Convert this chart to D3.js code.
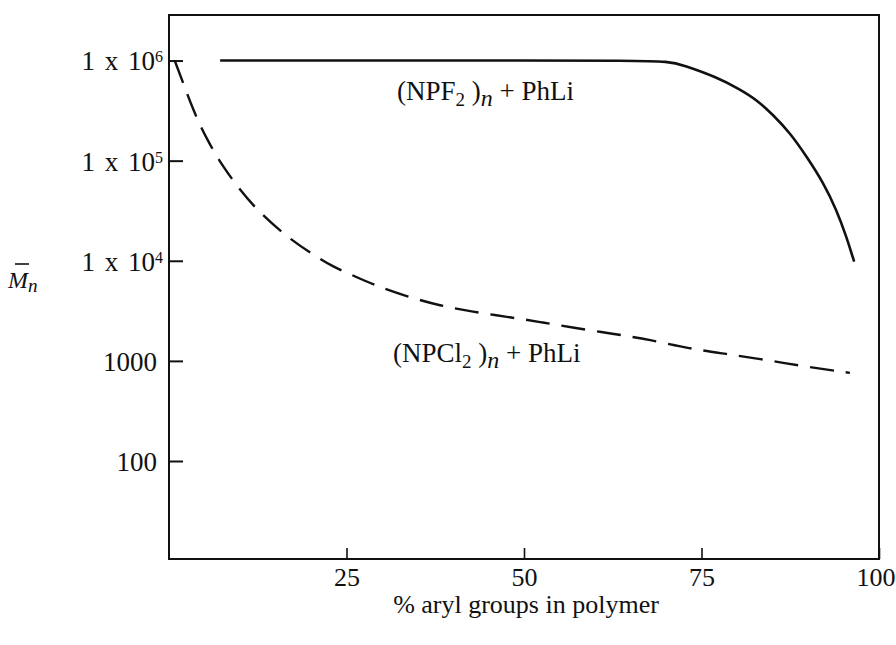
<!DOCTYPE html>
<html>
<head>
<meta charset="utf-8">
<script src="https://cdn.jsdelivr.net/npm/d3@7"></script>
<style>
  html, body { margin: 0; padding: 0; background: #fff; }
  svg { display: block; }
  text { font-family: "Liberation Serif", "DejaVu Serif", serif; fill: #111; }
</style>
</head>
<body>
<svg id="chart" width="896" height="645"></svg>
<script>
// Molecular weight (Mn) versus percent aryl substitution
const xTicks = [25, 50, 75, 100];
const yTicks = [100, 1000, 1e4, 1e5, 1e6];
const yTickLabels = [
  { base: "100", exp: "" },
  { base: "1000", exp: "" },
  { base: "1 x 10", exp: "4" },
  { base: "1 x 10", exp: "5" },
  { base: "1 x 10", exp: "6" }
];

// (NPF2)n + PhLi — solid curve
const npf2Pct = [7.2, 30, 50, 65, 70.5, 72.4, 77.2, 80.4, 82.8, 85.1, 87.5, 89.8, 92.2, 94.0, 95.4, 96.5];
const npf2Mn  = [1e6, 1e6, 1e6, 1e6, 9.8e5, 9.0e5, 6.8e5, 5.16e5, 4.04e5, 2.86e5, 1.88e5, 1.1e5, 5.96e4, 3.23e4, 1.75e4, 9.8e3];

// (NPCl2)n + PhLi — dashed curve
const npcl2Pct = [0.8, 2.0, 3.4, 5.35, 7.6, 10.0, 12.8, 16.6, 19.9, 23.1, 25.8, 28.7, 33.5, 38.2, 42.8, 47.6, 52.3, 56.9, 62.5, 67.7, 73.4, 78.3, 84.2, 89.9, 95.9];
const npcl2Mn  = [1e6, 5.96e5, 3.2e5, 1.61e5, 8.7e4, 5.1e4, 3.0e4, 1.74e4, 1.2e4, 8.7e3, 7.2e3, 5.8e3, 4.4e3, 3.55e3, 3.1e3, 2.75e3, 2.45e3, 2.14e3, 1.87e3, 1.63e3, 1.32e3, 1.18e3, 1.02e3, 870, 760];

const svg = d3.select("#chart");
const plotLeft = 169, plotRight = 879, plotTop = 15, plotBottom = 559;

const x = d3.scaleLinear().domain([0, 100]).range([plotLeft, plotRight]);
const y = d3.scaleLog().domain([10.5, 2.85e6]).range([plotBottom, plotTop]);

// frame
svg.append("rect")
  .attr("x", plotLeft).attr("y", plotTop)
  .attr("width", plotRight - plotLeft).attr("height", plotBottom - plotTop)
  .attr("fill", "none").attr("stroke", "#111").attr("stroke-width", 2);

// y axis: inward ticks, labels with superscript exponents
const yAxis = svg.append("g")
  .attr("transform", `translate(${plotLeft},0)`)
  .call(d3.axisLeft(y).tickValues(yTicks).tickSize(-14).tickPadding(12).tickFormat(() => ""));
yAxis.select(".domain").remove();
yAxis.selectAll(".tick line").attr("stroke", "#111").attr("stroke-width", 2);
yAxis.selectAll(".tick text").remove();
yAxis.selectAll(".tick").each(function(d, i) {
  const lab = yTickLabels[i];
  const t = d3.select(this).append("text")
    .attr("x", lab.exp ? -6 : -12)
    .attr("dy", "0.35em")
    .attr("text-anchor", "end")
    .attr("font-size", 27)
    .attr("word-spacing", 3);
  t.append("tspan").text(lab.base);
  if (lab.exp) {
    t.append("tspan").attr("dy", "-0.5em").attr("font-size", 16).text(lab.exp);
  }
});

// x axis: upward ticks
const xAxis = svg.append("g")
  .attr("transform", `translate(0,${plotBottom})`)
  .call(d3.axisBottom(x).tickValues(xTicks).tickSize(-11).tickPadding(9).tickFormat(d3.format("d")));
xAxis.select(".domain").remove();
xAxis.selectAll(".tick line").attr("stroke", "#111").attr("stroke-width", 1.6);
xAxis.selectAll(".tick text").attr("font-size", 26).attr("fill", "#111")
  .attr("font-family", "Liberation Serif, DejaVu Serif, serif")
  .filter(d => d === 100)
  .attr("text-anchor", "end").attr("x", 16);

// curves (B-spline smoothing of the plotted points)
const line = d3.line()
  .x(d => x(d[0]))
  .y(d => y(d[1]))
  .curve(d3.curveBasis);

svg.append("path")
  .datum(d3.zip(npf2Pct, npf2Mn))
  .attr("d", line)
  .attr("fill", "none").attr("stroke", "#111").attr("stroke-width", 2.6);

svg.append("path")
  .datum(d3.zip(npcl2Pct, npcl2Mn))
  .attr("d", line)
  .attr("fill", "none").attr("stroke", "#111").attr("stroke-width", 2.4)
  .attr("stroke-dasharray", "24,12");

// curve labels
function formulaLabel(xp, yp, el) {
  const t = svg.append("text").attr("x", xp).attr("y", yp).attr("font-size", 27);
  t.append("tspan").text("(NP" + el);
  t.append("tspan").attr("dy", 6).attr("font-size", 19).text("2");
  t.append("tspan").attr("dy", -6).text(" )");
  t.append("tspan").attr("dy", 6).attr("font-style", "italic").attr("font-size", 24).text("n");
  t.append("tspan").attr("dy", -6).text(" + PhLi");
}
formulaLabel(397, 100, "F");
formulaLabel(393, 362, "Cl");

// x axis title
svg.append("text")
  .attr("x", 526).attr("y", 613)
  .attr("text-anchor", "middle")
  .attr("font-size", 26)
  .text("% aryl groups in polymer");

// y axis title: M-bar with subscript n
const yt = svg.append("text").attr("x", 8).attr("y", 288).attr("font-size", 24).attr("font-style", "italic");
yt.append("tspan").text("M");
yt.append("tspan").attr("dy", 4).attr("font-size", 19).text("n");
svg.append("line")
  .attr("x1", 15).attr("x2", 29).attr("y1", 264).attr("y2", 264)
  .attr("stroke", "#111").attr("stroke-width", 1.6);
</script>
</body>
</html>
